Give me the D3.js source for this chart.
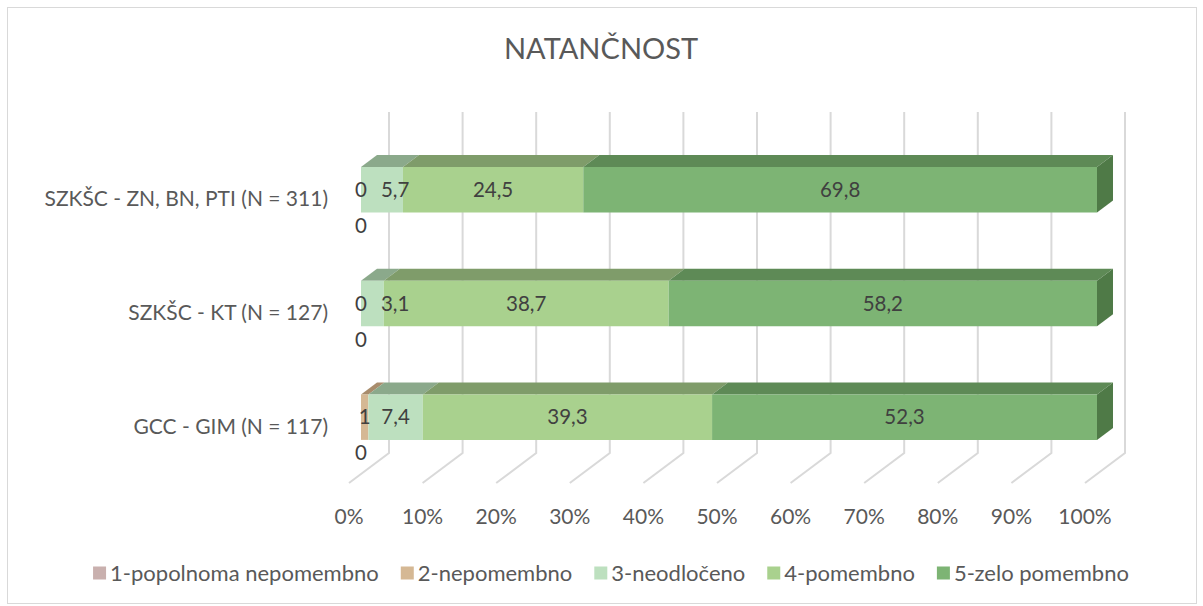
<!DOCTYPE html>
<html>
<head>
<meta charset="utf-8">
<script src="https://cdn.jsdelivr.net/npm/d3@7"></script>
<style>
  body { margin: 0; background: #fff; }
  svg text { font-family: Lato, "Open Sans", sans-serif; }
</style>
</head>
<body>
<svg id="chart" width="1203" height="606"></svg>
<script>
const categories = ["SZKŠC - ZN, BN, PTI (N = 311)", "SZKŠC - KT (N = 127)", "GCC - GIM (N = 117)"];
const seriesNames = ["1-popolnoma nepomembno", "2-nepomembno", "3-neodločeno", "4-pomembno", "5-zelo pomembno"];
const s1 = [0, 0, 0];
const s2 = [0, 0, 1];
const s3 = [5.7, 3.1, 7.4];
const s4 = [24.5, 38.7, 39.3];
const s5 = [69.8, 58.2, 52.3];
const xTicks = [0, 10, 20, 30, 40, 50, 60, 70, 80, 90, 100];

const frontColors = ["#c9b0ae", "#d5b894", "#bde0bf", "#a9d18e", "#7db474"];
const topColors = ["#a08886", "#a88c6c", "#8ba98b", "#7f9c6a", "#5e8a56"];
const sideColor = "#4f7a47";

const series = [s1, s2, s3, s4, s5];

const svg = d3.select("#chart");

// chart frame
svg.append("rect")
  .attr("x", 7.5).attr("y", 7.5)
  .attr("width", 1189).attr("height", 596)
  .attr("fill", "#fff").attr("stroke", "#d9d9d9");

// 3D projection: depth d in [0,1] shifts right/up
const depthX = 40, depthY = -30;
const proj = (x, y, d) => [x + depthX * d, y + depthY * d];

const x = d3.scaleLinear().domain([0, 100]).range([349, 1085]);
const y = d3.scaleBand().domain(categories).range([142, 483])
  .paddingInner(0.6).paddingOuter(0.3);

const wallTop = 142, floorY = 483;

// back wall gridlines + floor lines
const grid = svg.append("g").attr("stroke", "#d9d9d9").attr("stroke-width", 2).attr("fill", "none");
xTicks.forEach((t) => {
  const top = proj(x(t), wallTop, 1);
  const bot = proj(x(t), floorY, 1);
  const front = proj(x(t), floorY, 0);
  grid.append("path").attr("d", d3.line()([top, bot, front]));
});

// axis labels
svg.append("g").selectAll("text").data(xTicks).join("text")
  .attr("x", (d) => x(d))
  .attr("y", 517)
  .attr("dy", "0.35em")
  .attr("text-anchor", "middle")
  .attr("font-size", 21)
  .attr("fill", "#595959")
  .text((d) => d + "%");

// category labels
svg.append("g").selectAll("text").data(categories).join("text")
  .attr("x", 328)
  .attr("y", (d) => y(d) + y.bandwidth() / 2)
  .attr("dy", "0.35em")
  .attr("text-anchor", "end")
  .attr("font-size", 21)
  .attr("fill", "#595959")
  .text((d) => d);

// bars
const d0 = 0.3, d1 = 0.7;
const poly = (pts) => "M" + pts.map((p) => p.join(",")).join("L") + "Z";
const barsG = svg.append("g");
const labelsG = svg.append("g");
const fmt = (v) => String(v).replace(".", ",");

categories.forEach((cat, ci) => {
  const yt = y(cat), yb = y(cat) + y.bandwidth();
  let acc = 0;
  const segs = series.map((s, si) => {
    const seg = { si, v: s[ci], a: acc, b: acc + s[ci] };
    acc += s[ci];
    return seg;
  });
  const g = barsG.append("g");
  segs.forEach((sg) => {
    if (sg.v <= 0) return;
    const x0 = x(sg.a), x1 = x(sg.b);
    g.append("path")
      .attr("d", poly([proj(x0, yt, d0), proj(x1, yt, d0), proj(x1, yt, d1), proj(x0, yt, d1)]))
      .attr("fill", topColors[sg.si]);
    g.append("path")
      .attr("d", poly([proj(x0, yt, d0), proj(x1, yt, d0), proj(x1, yb, d0), proj(x0, yb, d0)]))
      .attr("fill", frontColors[sg.si]);
  });
  const last = segs[segs.length - 1];
  const xe = x(last.b);
  g.append("path")
    .attr("d", poly([proj(xe, yt, d0), proj(xe, yt, d1), proj(xe, yb, d1), proj(xe, yb, d0)]))
    .attr("fill", sideColor);

  // data labels
  const cy = proj(0, (yt + yb) / 2, d0)[1];
  let prevRight = -Infinity;
  segs.forEach((sg) => {
    const cx = proj((x(sg.a) + x(sg.b)) / 2, 0, d0)[0];
    const t = labelsG.append("text")
      .attr("font-size", 20.5)
      .attr("fill", "#404040")
      .attr("text-anchor", "middle")
      .attr("dy", "0.35em")
      .text(fmt(sg.v));
    if (sg.si === 0) {
      t.attr("x", cx).attr("y", cy + 36);
      return;
    }
    const w = t.node().getComputedTextLength();
    let px = cx;
    if (px - w / 2 < prevRight + 6) px = prevRight + 14 + w / 2;
    t.attr("x", px).attr("y", cy);
    prevRight = px + w / 2;
  });
});

// title
svg.append("text")
  .attr("x", 601).attr("y", 59)
  .attr("text-anchor", "middle")
  .attr("font-size", 29)
  .attr("fill", "#595959")
  .text("NATANČNOST");

// legend
const legend = svg.append("g");
let lx = 0;
seriesNames.forEach((name, i) => {
  const item = legend.append("g").attr("transform", `translate(${lx},0)`);
  item.append("rect").attr("x", 0).attr("y", -6.5).attr("width", 13).attr("height", 13)
    .attr("fill", frontColors[i]);
  const t = item.append("text").attr("x", 17).attr("dy", "0.35em")
    .attr("font-size", 22).attr("fill", "#595959").text(name);
  lx += 17 + t.node().getComputedTextLength() + 22;
});
const legendW = lx - 22;
legend.attr("transform", `translate(${611 - legendW / 2},573)`);
</script>
</body>
</html>
